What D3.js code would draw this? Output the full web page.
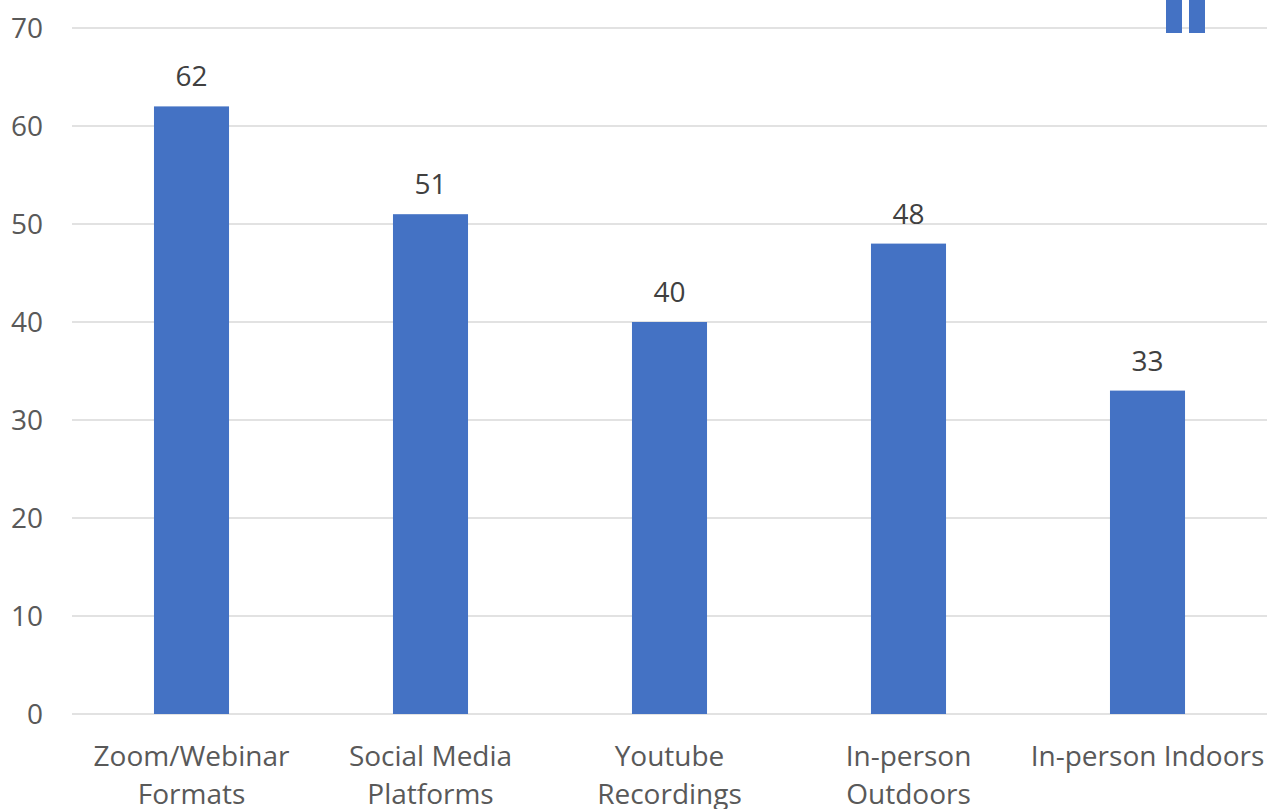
<!DOCTYPE html>
<html><head><meta charset="utf-8">
<script src="https://cdn.jsdelivr.net/npm/d3@7"></script>
<style>body{margin:0;background:#fff;} text{font-family:"Open Sans",sans-serif;}</style>
</head><body>
<svg id="c" width="1276" height="809"></svg>
<script>
const categories = ["Zoom/Webinar Formats","Social Media Platforms","Youtube Recordings","In-person Outdoors","In-person Indoors"];
const values = [62,51,40,48,33];
const yTicks = [0,10,20,30,40,50,60,70];

(function(){
const svg = d3.select("#c");
const mL = 72, mR = 1267, mT = 28, mB = 714;
const x = d3.scaleBand().domain(categories).range([mL,mR]).paddingInner(0.686).paddingOuter(0.343);
const y = d3.scaleLinear().domain([0,70]).range([mB,mT]);

svg.append("g").selectAll("line").data(yTicks).join("line")
  .attr("x1",mL).attr("x2",mR).attr("y1",d=>y(d)).attr("y2",d=>y(d))
  .attr("stroke","#d9d9d9").attr("stroke-width",1.5);

svg.append("g").selectAll("text").data(yTicks).join("text")
  .attr("x",43).attr("y",d=>y(d)).attr("dy","0.36em").attr("text-anchor","end")
  .attr("fill","#595959").attr("font-size",28).text(d=>d);

svg.append("g").selectAll("rect").data(values).join("rect")
  .attr("x",(d,i)=>x(categories[i])).attr("width",x.bandwidth())
  .attr("y",d=>y(d)).attr("height",d=>y(0)-y(d)).attr("fill","#4472c4");

svg.append("g").selectAll("text").data(values).join("text")
  .attr("x",(d,i)=>x(categories[i])+x.bandwidth()/2).attr("y",d=>y(d)-20)
  .attr("text-anchor","middle").attr("fill","#404040").attr("font-size",28).text(d=>d);

const step = x.step();
const cat = svg.append("g");
categories.forEach((c,i)=>{
  const cx = x(c)+x.bandwidth()/2;
  const t = cat.append("text").attr("x",cx).attr("y",766).attr("text-anchor","middle")
    .attr("fill","#595959").attr("font-size",28);
  const words = c.split(" ");
  let lines=[], line=[];
  const tmp = t.append("tspan");
  words.forEach(w=>{
    line.push(w);
    tmp.text(line.join(" "));
    if(tmp.node().getComputedTextLength()>step-4 && line.length>1){
      line.pop(); lines.push(line.join(" ")); line=[w];
    }
  });
  lines.push(line.join(" "));
  tmp.remove();
  lines.forEach((l,j)=>t.append("tspan").attr("x",cx).attr("dy",j?38:0).text(l));
});

svg.append("g").selectAll("rect").data([0,1]).join("rect")
  .attr("x",d=>1166+d*23).attr("y",0).attr("width",16).attr("height",33).attr("fill","#4472c4");
})();
</script>
</body></html>
